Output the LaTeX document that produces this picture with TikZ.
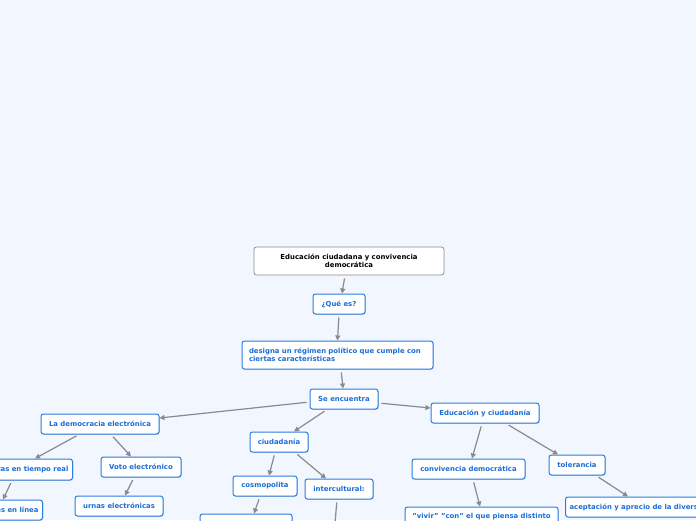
\documentclass[tikz,border=0pt]{standalone}
\usepackage{fontspec}
\setmainfont{DejaVu Sans}
\usetikzlibrary{arrows.meta,shadows}
\definecolor{bgc}{HTML}{F2F6FE}
\definecolor{bord}{HTML}{2A7DE1}
\definecolor{txt}{HTML}{1A6DD8}
\definecolor{edgec}{HTML}{8A8A8A}
\definecolor{rootb}{HTML}{8C8C8C}
\tikzset{
  box/.style={draw=bord, line width=1pt, fill=white, rounded corners=2.5pt,
    text=txt, font=\fontsize{6.9}{8.4}\selectfont\bfseries, minimum height=20pt,
    inner xsep=4pt, inner ysep=2pt,
    drop shadow={shadow xshift=0.8pt, shadow yshift=-0.8pt, opacity=0.25, fill=black!60}},
  rootbox/.style={draw=rootb, line width=0.8pt, fill=white, rounded corners=2.5pt,
    text=black, font=\fontsize{6.9}{8.4}\selectfont\bfseries, align=center},
  conn/.style={draw=edgec, line width=1.2pt, shorten <=3pt,
    -{Triangle[length=5pt,width=5pt]}},
  plain/.style={draw=edgec, line width=1.2pt, shorten <=3pt}
}
\begin{document}
\begin{tikzpicture}[x=1pt,y=-1pt]
\fill[bgc] (0,0) rectangle (696,520);
\useasboundingbox (0,0) rectangle (696,520);
\clip (0,0) rectangle (696,520);

\node[rootbox, minimum width=190pt, minimum height=28pt] (root) at (349,261)
  {Educación ciudadana y convivencia\\democrática};
\node[box, minimum width=52pt] (qe) at (339,304) {¿Qué es?};
\node[box, minimum width=191pt, minimum height=28pt, text width=177pt, inner xsep=7pt, align=left] (designa) at (337.5,355)
  {designa un régimen político que cumple con ciertas características};
\node[box, minimum width=68pt] (se) at (344,399) {Se encuentra};
\node[box, minimum width=118pt] (dem) at (100,424) {La democracia electrónica};
\node[box, minimum width=108pt] (edu) at (485,413) {Educación y ciudadanía};
\node[box, minimum width=58pt] (ciud) at (279,442) {ciudadanía};
\node[box, anchor=east, minimum height=21pt] (tiempo) at (73,469.5) {Encuestas en tiempo real};
\node[box, anchor=east] (linea) at (43,510) {Votaciones en línea};
\node[box, minimum width=80pt] (voto) at (141,467) {Voto electrónico};
\node[box, minimum width=88pt] (urnas) at (119,506) {urnas electrónicas};
\node[box, minimum width=64pt] (cosmo) at (265,486) {cosmopolita};
\node[box, minimum width=68pt] (inter) at (339,489) {intercultural:};
\node[box, minimum width=92pt] (below) at (246,524) {};
\coordinate (off) at (334,535);
\node[box, minimum width=113pt] (conv) at (468.5,469) {convivencia democrática};
\node[box, minimum width=56pt] (tol) at (577,465) {tolerancia};
\node[box, minimum width=153pt] (vivir) at (481.5,517) {"vivir" "con" el que piensa distinto};
\node[box, anchor=west] (acept) at (565,507) {aceptación y aprecio de la diversidad};

\draw[conn] ([xshift=-4pt]root.south) -- ([xshift=3pt]qe.north);
\draw[conn] (qe.south) -- (designa.north);
\draw[conn] ([xshift=3.5pt]designa.south) -- ([xshift=-1pt]se.north);
\draw[conn] ([yshift=-3pt]se.west) -- ([yshift=6pt]dem.east);
\draw[conn] ([xshift=-17pt]se.south) -- ([xshift=15pt]ciud.north);
\draw[conn] ([yshift=-4pt]se.east) -- ([yshift=5pt]edu.west);
\draw[conn] ([xshift=-21pt]dem.south) -- ([xshift=-38pt]tiempo.north east);
\draw[conn] ([xshift=11pt]dem.south) -- ([xshift=-10pt]voto.north);
\draw[conn] ([xshift=-61pt]tiempo.south east) -- ([xshift=-40pt]linea.north east);
\draw[conn] ([xshift=-7pt]voto.south) -- ([xshift=6pt]urnas.north);
\draw[conn] ([xshift=-4pt]ciud.south) -- ([xshift=4pt]cosmo.north);
\draw[conn] ([xshift=16pt]ciud.south) -- ([xshift=-13pt]inter.north);
\draw[conn] ([xshift=-5pt]cosmo.south) -- ([xshift=8pt]below.north);
\draw[plain] ([xshift=-2pt]inter.south) -- (off);
\draw[conn] ([xshift=-3pt]edu.south) -- ([xshift=3.5pt]conv.north);
\draw[conn] ([xshift=21pt]edu.south) -- ([xshift=-19pt]tol.north);
\draw[conn] ([xshift=4.5pt]conv.south) -- ([xshift=-1.5pt]vivir.north);
\draw[conn] ([xshift=19pt]tol.south) -- ([xshift=63pt]acept.north west);
\end{tikzpicture}
\end{document}
